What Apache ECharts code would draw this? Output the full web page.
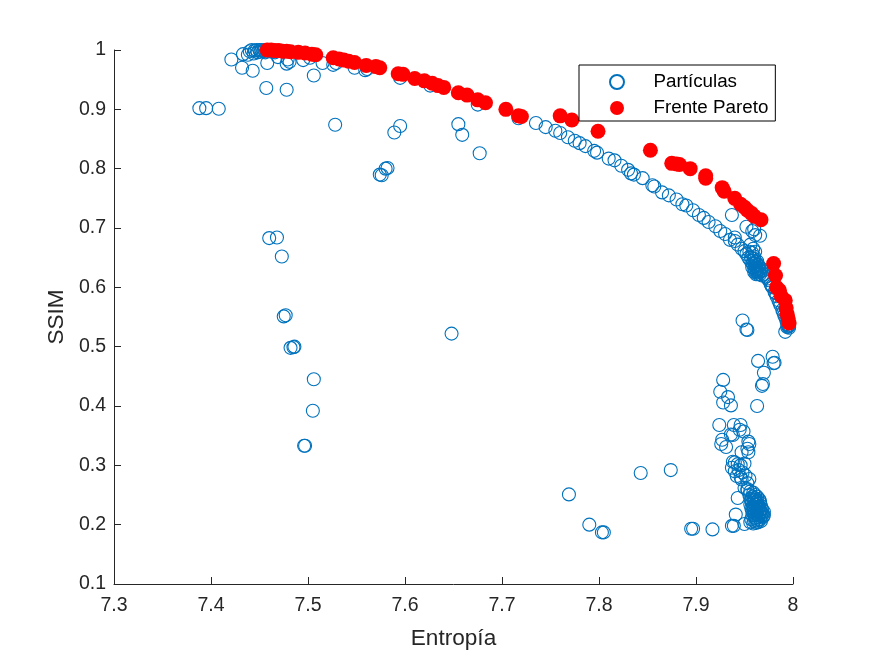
<!DOCTYPE html>
<html><head><meta charset="utf-8">
<script src="https://cdn.jsdelivr.net/npm/echarts@6/dist/echarts.min.js"></script>
<style>html,body{margin:0;padding:0;background:#fff}#c{width:875px;height:656px}</style>
</head><body><div id="c"></div>
<script>
const xTickFormat = v => String(+v.toFixed(1));
const particlesScatter = [
[7.388,.902],[7.395,.902],[7.408,.901],[7.421,.984],[7.433,.993],[7.432,.97],[7.443,.965],[7.458,.978],[7.457,.936],[7.478,.933],
[7.469,.988],[7.481,.98],[7.479,.984],[7.478,.977],[7.495,.983],[7.502,.987],[7.515,.978],[7.526,.975],[7.529,.978],[7.506,.957],
[7.548,.97],[7.559,.966],[7.561,.968],[7.595,.953],[7.626,.94],[7.675,.908],[7.717,.885],[7.528,.874],[7.589,.861],[7.595,.872],
[7.574,.79],[7.576,.789],[7.58,.8],[7.582,.801],[7.655,.875],[7.659,.857],[7.677,.826],[7.648,.522],[7.46,.683],[7.468,.684],
[7.473,.652],[7.475,.551],[7.477,.553],[7.482,.498],[7.485,.499],[7.486,.5],[7.506,.445],[7.505,.392],[7.496,.333],[7.497,.333],
[7.769,.251],[7.79,.2],[7.803,.187],[7.805,.187],[7.843,.287],[7.874,.292],[7.895,.193],[7.897,.193],[7.917,.192]
];
const particlesTop = [
[7.438,.992],[7.44,.998],[7.442,1],[7.444,.994],[7.445,.999],[7.447,1],[7.448,.996],[7.45,1],[7.451,.997],[7.452,1],[7.454,.998],[7.455,1],[7.456,.996],[7.457,1],
[7.459,.999],[7.461,.998],[7.463,.997],[7.466,.996]
];
const particlesCurve = [
[7.735,.877],[7.745,.87],[7.755,.864],[7.76,.86],[7.768,.853],[7.775,.847],[7.78,.843],[7.786,.838],[7.795,.83],[7.798,.827],
[7.81,.817],[7.816,.814],[7.823,.805],[7.83,.798],[7.833,.792],[7.836,.79],[7.845,.784],[7.855,.772],[7.857,.77],[7.865,.76],
[7.872,.755],[7.88,.748],[7.886,.74],[7.89,.738],[7.897,.73],[7.903,.722],[7.908,.717],[7.913,.71],[7.92,.703],[7.925,.695],
[7.93,.69],[7.935,.68],[7.94,.678],[7.943,.672],[7.947,.665],[7.95,.661],[7.952,.656],[7.954,.65],[7.956,.645],[7.958,.64],
[7.937,.722],[7.94,.684],[7.952,.702],[7.958,.695],[7.96,.698],[7.961,.688],[7.966,.687],[7.956,.672],[7.959,.665],[7.961,.66],[7.955,.66],[7.96,.652],
[7.957,.65],[7.959,.645],[7.96,.64],[7.962,.635],[7.961,.628],[7.963,.625],[7.965,.63],[7.967,.627],[7.962,.642],[7.964,.638],[7.966,.622],[7.968,.62],
[7.958,.658],[7.96,.648],[7.958,.634],[7.96,.632],[7.962,.63],[7.964,.633],[7.963,.628],[7.965,.626],[7.961,.636],[7.963,.644],[7.965,.635],[7.967,.632],[7.969,.628],[7.964,.622],[7.962,.622],[7.96,.626],
[7.97,.622],[7.972,.618],[7.975,.612],[7.977,.605],[7.979,.6],[7.981,.592],[7.983,.585],[7.985,.578],[7.987,.57],[7.989,.562],[7.991,.553],[7.993,.545],
[7.974,.615],[7.978,.602],[7.982,.59],[7.986,.574],[7.99,.558],[7.992,.55],[7.994,.542],
[7.994,.538],[7.995,.534],[7.996,.532],[7.992,.525],[7.995,.536],[7.994,.533],[7.996,.535]
];
const particlesLower = [
[7.948,.544],[7.952,.529],[7.953,.528],[7.979,.483],[7.964,.476],[7.981,.473],[7.98,.472],[7.97,.456],[7.969,.437],[7.968,.434],
[7.963,.4],[7.928,.444],[7.925,.424],[7.933,.415],[7.928,.406],[7.936,.401],[7.924,.368],[7.938,.351],[7.936,.352],[7.939,.368],
[7.946,.368],[7.945,.36],[7.949,.357],[7.927,.343],[7.926,.336],[7.931,.331],[7.954,.34],[7.955,.336],[7.953,.328],[7.954,.322],
[7.947,.322],[7.938,.306],[7.937,.296],[7.94,.305],[7.943,.302],[7.946,.3],[7.95,.303],[7.94,.29],[7.944,.292],[7.948,.288],
[7.942,.282],[7.946,.28],[7.951,.283],[7.955,.277],[7.953,.27],[7.947,.276],[7.95,.262],[7.953,.26],[7.943,.245],[7.941,.217],[7.937,.198],[7.939,.198],[7.95,.201]
];
const particlesBlob = [
[7.953,.258],[7.956,.256],[7.959,.254],[7.955,.25],[7.958,.247],[7.961,.25],[7.963,.247],[7.957,.243],[7.96,.241],[7.963,.24],
[7.965,.243],[7.958,.237],[7.961,.234],[7.964,.235],[7.966,.237],[7.959,.231],[7.962,.228],[7.965,.23],[7.967,.232],[7.96,.226],
[7.963,.223],[7.966,.225],[7.968,.227],[7.97,.222],[7.96,.22],[7.963,.217],[7.966,.219],[7.969,.218],[7.958,.215],[7.961,.212],
[7.964,.213],[7.967,.214],[7.969,.213],[7.957,.209],[7.96,.206],[7.963,.207],[7.966,.209],[7.956,.204],[7.959,.202],[7.962,.203],
[7.96,.245],[7.962,.238],[7.957,.24],[7.961,.244],[7.964,.228],[7.967,.222],[7.965,.216],[7.962,.21],[7.96,.216],[7.958,.222],[7.957,.228],[7.956,.234],[7.968,.22],[7.97,.216],[7.964,.204],[7.967,.206],[7.96,.229],[7.963,.233],[7.966,.24],[7.958,.226]
];
const paretoFront = [
[7.458,1],[7.462,1],[7.466,.999],[7.47,.999],[7.474,.998],[7.478,.998],[7.482,.997],[7.49,.996],[7.497,.995],[7.504,.993],[7.508,.992],
[7.526,.987],[7.532,.985],[7.537,.983],[7.542,.981],[7.548,.979],[7.56,.974],[7.57,.972],[7.574,.97],
[7.593,.96],[7.598,.959],[7.61,.952],[7.62,.948],[7.628,.944],[7.634,.94],[7.64,.937],[7.655,.928],[7.664,.924],[7.675,.916],[7.683,.911],
[7.704,.9],[7.717,.889],[7.72,.888],[7.76,.889],[7.772,.882],[7.799,.863],[7.853,.831],[7.875,.809],[7.88,.808],[7.883,.807],[7.894,.8],
[7.91,.788],[7.91,.784],[7.927,.768],[7.929,.762],[7.94,.75],[7.946,.74],[7.95,.735],[7.953,.73],[7.957,.725],[7.96,.72],[7.967,.714],
[7.98,.64],[7.982,.62],[7.983,.6],[7.986,.595],[7.988,.585],[7.992,.578],[7.993,.565],[7.994,.555],[7.995,.548],[7.996,.54]
];
const particles = [...particlesScatter, ...particlesTop, ...particlesCurve, ...particlesLower, ...particlesBlob];
const font = '"Liberation Sans", Arial, sans-serif';
const ink = '#262626';
const axisCommon = {
  axisLine:{show:true,onZero:false,lineStyle:{color:ink,width:1}},
  axisTick:{show:true,inside:true,length:7,lineStyle:{color:ink,width:1}},
  splitLine:{show:false},
  nameLocation:'middle',
  nameTextStyle:{color:ink,fontFamily:font,fontSize:22.6}
};
const labelStyle = {color:ink,fontFamily:font,fontSize:19.5,formatter:xTickFormat};
const chart = echarts.init(document.getElementById('c'),null,{renderer:'canvas'});
chart.setOption({
  animation:false,
  backgroundColor:'#fff',
  grid:{left:114,top:50,right:82,bottom:72,containLabel:false},
  xAxis:{type:'value',min:7.3,max:8,interval:.1,name:'Entropía',nameGap:43,axisLabel:{...labelStyle,margin:12},...axisCommon},
  yAxis:{type:'value',min:.1,max:1,interval:.1,name:'SSIM',nameGap:46,axisLabel:{...labelStyle,margin:8},...axisCommon},
  legend:{
    left:579,top:65,orient:'vertical',
    padding:[7.5,7,3.5,30],itemGap:7,itemWidth:63,itemHeight:14,
    backgroundColor:'#fff',borderColor:'#000',borderWidth:1,borderRadius:0,
    textStyle:{color:'#000',fontFamily:font,fontSize:18.8},
    data:['Partículas','Frente Pareto']
  },
  series:[
    {name:'Partículas',type:'scatter',data:particles,clip:false,symbol:'circle',symbolSize:13,
     itemStyle:{color:'rgba(0,0,0,0)',borderColor:'#0072BD',borderWidth:1.1,opacity:1}},
    {name:'Frente Pareto',type:'scatter',data:paretoFront,clip:false,symbol:'circle',symbolSize:15,
     itemStyle:{color:'#FF0000',borderColor:'#FF0000',borderWidth:0,opacity:1}}
  ]
});
</script></body></html>
